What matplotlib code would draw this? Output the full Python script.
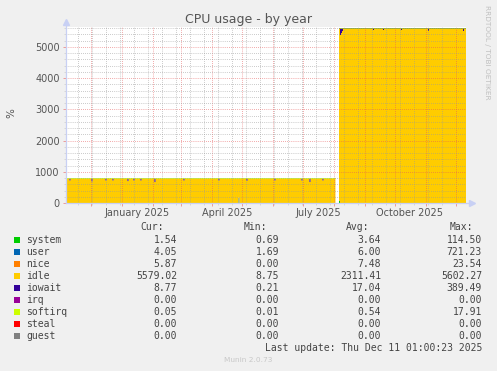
import numpy as np
import pandas as pd
import matplotlib
matplotlib.use('Agg')
import matplotlib.pyplot as plt
import matplotlib.dates as mdates
from matplotlib.patches import Rectangle
from matplotlib.lines import Line2D

# series and munin colours
names = ['system', 'user', 'nice', 'idle', 'iowait', 'irq', 'softirq', 'steal', 'guest']
colors = ['#00CC00', '#0066B3', '#FF8000', '#FFCC00', '#330099',
          '#990099', '#CCFF00', '#FF0000', '#808080']

# two data segments (8 cpus, then 56 cpus after a gap in early August)
seg_start = ['2024-11-06', '2025-08-06']
seg_end = ['2025-08-02', '2025-12-11']
system = [4.0, 1.5]
user = [6.0, 4.0]
nice = [6.0, 6.0]
idle = [781.0, 5579.0]
iowait = [2.0, 8.8]
irq = [0.0, 0.0]
softirq = [1.0, 0.5]
steal = [0.0, 0.0]
guest = [0.0, 0.0]

# short spikes (taken from idle)
iowait_spike_dates = ['2024-11-09', '2024-12-01', '2024-12-15', '2024-12-22', '2025-01-06',
                      '2025-01-12', '2025-01-19', '2025-02-02', '2025-03-03', '2025-04-07',
                      '2025-05-05', '2025-06-02', '2025-06-29', '2025-07-07', '2025-07-20',
                      '2025-08-07', '2025-08-08', '2025-08-09', '2025-09-09', '2025-09-19',
                      '2025-10-07', '2025-11-03', '2025-12-08']
iowait_spike_vals = [60, 90, 60, 60, 80, 60, 60, 110, 60, 60, 70, 60, 60, 110, 60,
                     200, 130, 70, 60, 60, 60, 70, 70]
user_spike_dates = ['2025-04-27']
user_spike_vals = [170]
system_spike_dates = ['2025-08-06']
system_spike_vals = [50]

# legend table
cur = ['1.54', '4.05', '5.87', '5579.02', '8.77', '0.00', '0.05', '0.00', '0.00']
vmin = ['0.69', '1.69', '0.00', '8.75', '0.21', '0.00', '0.01', '0.00', '0.00']
vavg = ['3.64', '6.00', '7.48', '2311.41', '17.04', '0.00', '0.54', '0.00', '0.00']
vmax = ['114.50', '721.23', '23.54', '5602.27', '389.49', '0.00', '17.91', '0.00', '0.00']

month_labels = ['January 2025', 'April 2025', 'July 2025', 'October 2025']
month_label_dates = ['2025-01-16', '2025-04-16', '2025-07-16', '2025-10-16']

x_start = pd.Timestamp('2024-11-06 01:00')
x_end = pd.Timestamp('2025-12-11 01:00')

W, H = 497, 371
fig = plt.figure(figsize=(W / 100, H / 100), dpi=100, facecolor='#F0F0F0')
ax = fig.add_axes([66 / W, (H - 203) / H, 400 / W, 176 / H])
ax.set_facecolor('white')

bases = [system, user, nice, idle, iowait, irq, softirq, steal, guest]
spikes = {0: (system_spike_dates, system_spike_vals),
          1: (user_spike_dates, user_spike_vals),
          4: (iowait_spike_dates, iowait_spike_vals)}

for s in range(len(seg_start)):
    days = pd.date_range(seg_start[s], seg_end[s], freq='D', inclusive='left')
    vals = [np.full(len(days), b[s]) for b in bases]
    for k, (dd, vv) in spikes.items():
        for d, v in zip(dd, vv):
            i = days.get_indexer([pd.Timestamp(d)])[0]
            if i >= 0:
                vals[k][i] += v
                vals[3][i] -= v
    x = list(days) + [pd.Timestamp(seg_end[s])]
    lower = np.zeros(len(x))
    for k in range(len(names)):
        v = np.append(vals[k], vals[k][-1])
        upper = lower + v
        ax.fill_between(x, lower, upper, step='post', color=colors[k], lw=0, zorder=1)
        lower = upper
    ax.step(x, lower, where='post', color=colors[6], lw=0.5, zorder=1.5)

ax.set_xlim(x_start, x_end)
ax.set_ylim(0, 5640)

ax.xaxis.set_major_locator(mdates.MonthLocator())
ax.xaxis.set_minor_locator(mdates.WeekdayLocator(byweekday=mdates.MO, interval=2))
ax.set_yticks(range(0, 6000, 1000))
ax.set_yticks(range(0, 5640, 200), minor=True)
ax.set_xticklabels([])

ax.set_axisbelow(False)
ax.grid(which='major', color=(0.9, 0.35, 0.35, 0.4), linestyle=(0, (1, 2)), linewidth=0.5)
ax.grid(which='minor', color=(0.6, 0.6, 0.6, 0.3), linestyle=(0, (1, 2)), linewidth=0.5)
ax.tick_params(which='major', length=2.5, width=0.6, color=(0.92, 0.55, 0.55),
               labelsize=7, labelcolor='#555555', pad=2)
ax.tick_params(which='minor', length=1.5, width=0.5, color='#cccccc')

for sp in ax.spines.values():
    sp.set_visible(False)

axis_col = '#C8D0F4'
ax.add_line(Line2D([0, 0], [0, 1.03], transform=ax.transAxes, color=axis_col,
                   lw=0.9, clip_on=False, zorder=3))
ax.add_line(Line2D([0, 1.015], [0, 0], transform=ax.transAxes, color=axis_col,
                   lw=0.9, clip_on=False, zorder=3))
ax.plot([0], [1.03], marker='^', ms=4, color=axis_col, transform=ax.transAxes, clip_on=False, zorder=3)
ax.plot([1.015], [0], marker='>', ms=4, color=axis_col, transform=ax.transAxes, clip_on=False, zorder=3)

for lab, d in zip(month_labels, month_label_dates):
    ax.text(pd.Timestamp(d), -0.055, lab, transform=ax.get_xaxis_transform(),
            ha='center', va='center', fontsize=7, color='#555555')

fig.text(0.5, 1 - 19.5 / H, 'CPU usage - by year', ha='center', va='center',
         fontsize=9, color='#555555')
fig.text(11 / W, 1 - 113 / H, '%', ha='center', va='center', rotation=90,
         fontsize=7.5, color='#555555')
fig.text(487 / W, 1 - 5 / H, 'RRDTOOL / TOBI OETIKER', ha='center', va='top',
         rotation=270, fontsize=5.3, color='#C0C0C0')

# legend table
mono = 'DejaVu Sans Mono'
tcol = '#444444'
hy = 1 - 227.5 / H
for txt, xr in zip(['Cur:', 'Min:', 'Avg:', 'Max:'], [164, 267, 369, 473]):
    fig.text(xr / W, hy, txt, ha='right', va='center', family=mono, fontsize=7, color=tcol)
for i, name in enumerate(names):
    yc = 240 + 12 * i
    fig.add_artist(Rectangle((14 / W, 1 - (yc + 3) / H), 6 / W, 6 / H,
                             transform=fig.transFigure, color=colors[i], lw=0))
    fig.text(26 / W, 1 - yc / H, name, ha='left', va='center', family=mono,
             fontsize=7, color=tcol)
    for col, xr in zip([cur, vmin, vavg, vmax], [177, 279, 381, 482]):
        fig.text(xr / W, 1 - yc / H, col[i], ha='right', va='center', family=mono,
                 fontsize=7, color=tcol)
fig.text(482 / W, 1 - 348 / H, 'Last update: Thu Dec 11 01:00:23 2025', ha='right',
         va='center', family=mono, fontsize=7, color=tcol)
fig.text(248 / W, 1 - 360.5 / H, 'Munin 2.0.73', ha='center', va='center',
         fontsize=5.3, color='#C8C8C8')

fig.savefig('out.png', dpi=100, facecolor=fig.get_facecolor())
